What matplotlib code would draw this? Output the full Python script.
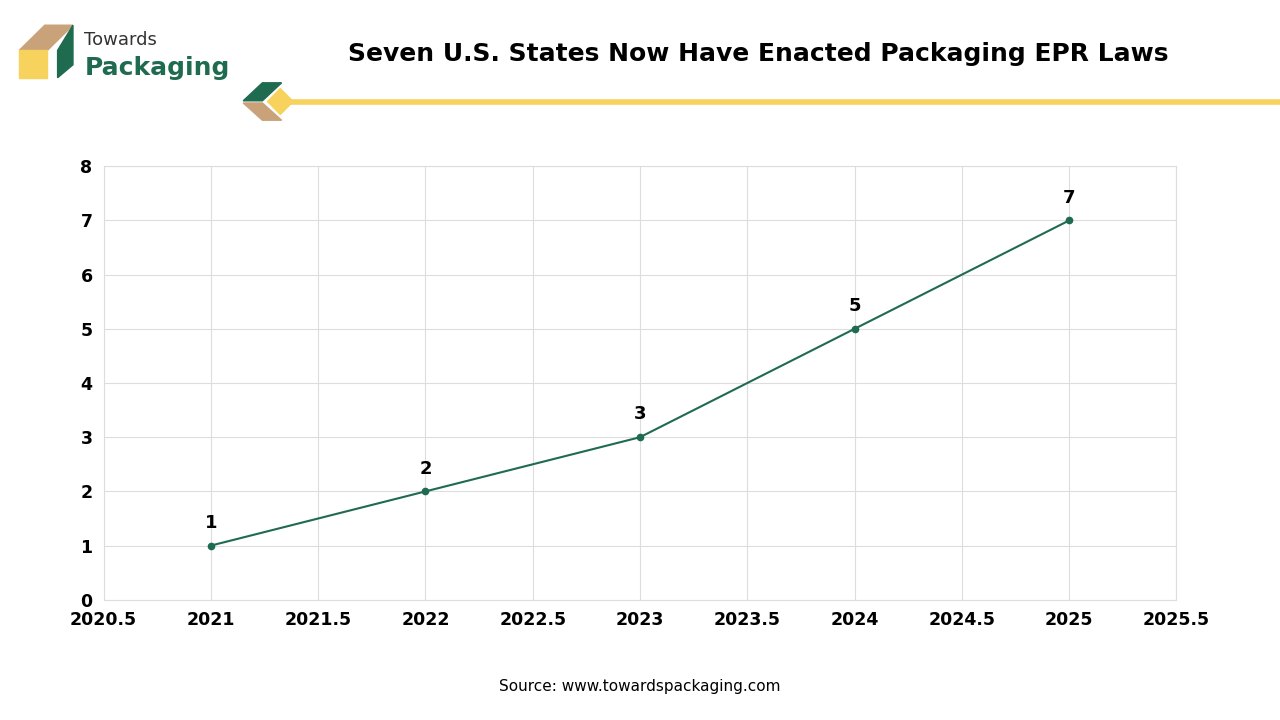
import matplotlib.pyplot as plt
import matplotlib.patches as mpatches
import numpy as np

years = [2021, 2022, 2023, 2024, 2025]
states = [1, 2, 3, 5, 7]
line_color = '#1f6b50'

"""
chart of states with packaging EPR laws
"""
fig = plt.figure(figsize=(12.8, 7.2), dpi=100)
fig.patch.set_facecolor('white')

# logo boxes
fig.add_artist(mpatches.Polygon([[0.015, 0.93], [0.035, 0.965], [0.057, 0.965], [0.037, 0.93]],
                                transform=fig.transFigure, color='#c9a27a'))
fig.add_artist(mpatches.Rectangle((0.015, 0.892), 0.022, 0.038, transform=fig.transFigure, color='#f7d25c'))
fig.add_artist(mpatches.Polygon([[0.045, 0.892], [0.057, 0.91], [0.057, 0.965], [0.045, 0.93]],
                                transform=fig.transFigure, color='#1f6b50'))
plt.figtext(0.066, 0.945, 'Towards', fontsize=13, color='#333333', va='center')
plt.figtext(0.066, 0.905, 'Packaging', fontsize=18, color='#1f6b50', fontweight='bold', va='center')

# small diamonds and rule
fig.add_artist(mpatches.Polygon([[0.19, 0.86], [0.205, 0.885], [0.22, 0.885], [0.205, 0.86]],
                                transform=fig.transFigure, color='#1f6b50'))
fig.add_artist(mpatches.Polygon([[0.19, 0.857], [0.205, 0.833], [0.22, 0.833], [0.205, 0.857]],
                                transform=fig.transFigure, color='#c9a27a'))
fig.add_artist(mpatches.Polygon([[0.209, 0.859], [0.219, 0.877], [0.229, 0.859], [0.219, 0.841]],
                                transform=fig.transFigure, color='#f7d25c'))
fig.add_artist(plt.Line2D([0.229, 1.0], [0.859, 0.859], transform=fig.transFigure,
                          color='#f7d25c', linewidth=4))
plt.figtext(0.592, 0.925, 'Seven U.S. States Now Have Enacted Packaging EPR Laws',
            fontsize=18, fontweight='bold', ha='center', va='center')

ax = fig.add_axes([0.081, 0.167, 0.838, 0.602])
ax.plot(years, states, color=line_color, linewidth=1.5, marker='o', markersize=4.5)
for x, y in zip(years, states):
    ax.annotate(str(y), (x, y), xytext=(0, 10), textcoords='offset points',
                ha='center', va='bottom', fontsize=13, fontweight='bold')
ax.set_xlim(2020.5, 2025.5)
ax.set_ylim(0, 8)
ax.set_xticks(np.arange(2020.5, 2025.6, 0.5))
ax.set_xticklabels(['2020.5', '2021', '2021.5', '2022', '2022.5', '2023', '2023.5', '2024', '2024.5', '2025', '2025.5'])
ax.set_yticks(range(0, 9))
ax.tick_params(length=0, labelsize=12.5, pad=8)
for lbl in ax.get_xticklabels() + ax.get_yticklabels():
    lbl.set_fontweight('bold')
ax.grid(True, color='#dddddd', linewidth=0.8)
for s in ax.spines.values():
    s.set_color('#dddddd')

plt.figtext(0.5, 0.047, 'Source: www.towardspackaging.com', fontsize=11, ha='center', va='center')
plt.savefig('out.png')
